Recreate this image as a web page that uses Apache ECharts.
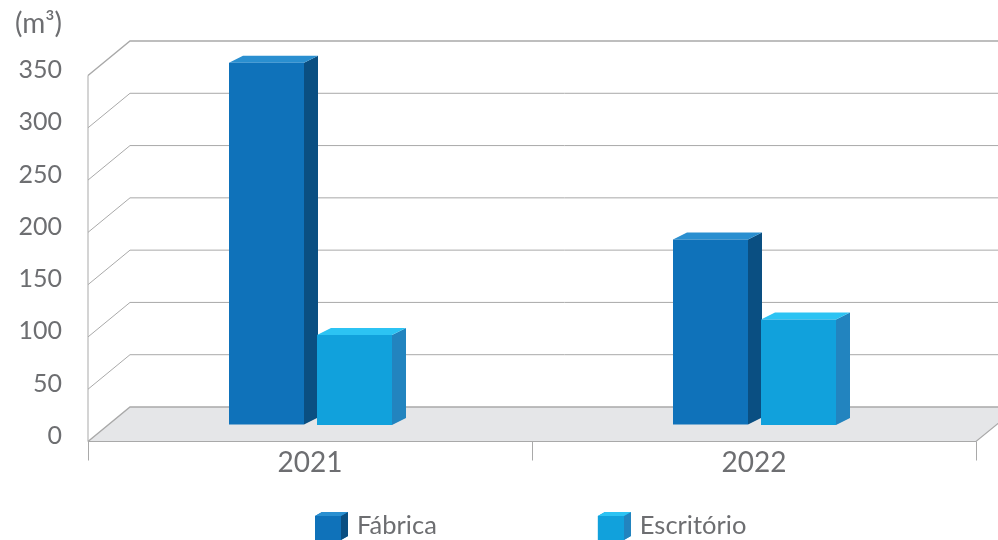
<!DOCTYPE html>
<html>
<head>
<meta charset="utf-8">
<style>html,body{margin:0;padding:0;background:#fff}#c{width:998px;height:540px}</style>
<script src="https://cdn.jsdelivr.net/npm/echarts@6/dist/echarts.min.js"></script>
</head>
<body>
<div id="c"></div>
<script>
const categories = ['2021', '2022'];
const fabrica = [346, 177];
const escritorio = [86, 101];
const yTicks = [0, 50, 100, 150, 200, 250, 300, 350];

const TEXT = '#6D6E71', LINE = '#A9A9A9';
const WALL_DX = 42, WALL_DY = 34.5, BAR_W = 75, DEPTH_X = 14, DEPTH_Y = 7;

function wall(params, api) {
  const cs = params.coordSys;
  const v = api.value(1);
  const y = api.coord([0, v])[1];
  const x0 = cs.x, x1 = cs.x + cs.width;
  const kids = [];
  if (v === 0) {
    kids.push({type: 'polygon', shape: {points: [[x0, y], [x0 + WALL_DX, y - WALL_DY], [x1 + WALL_DX, y - WALL_DY], [x1, y]]},
      style: {fill: '#E5E6E8', stroke: null}});
    kids.push({type: 'polyline', shape: {points: [[x0, y], [x1, y], [x1 + WALL_DX, y - WALL_DY]]},
      style: {fill: null, stroke: LINE, lineWidth: 1.2}});
    kids.push({type: 'line', shape: {x1: x0, y1: y, x2: x0, y2: api.coord([0, yTicks[yTicks.length - 1]])[1]},
      style: {stroke: LINE, lineWidth: 1}});
  }
  const heavy = v === 0 || v === 350;
  kids.push({type: 'polyline', shape: {points: [[x0, y], [x0 + WALL_DX, y - WALL_DY], [x1 + WALL_DX, y - WALL_DY]]},
    style: {fill: null, stroke: LINE, lineWidth: heavy ? 1.4 : 1}});
  return {type: 'group', children: kids};
}

function bars(offset, lift, front, side, top) {
  return function (params, api) {
    const c = api.coord([api.value(0), api.value(1)]);
    const base = api.coord([api.value(0), 0]);
    const x = Math.round(c[0] + offset), yt = c[1] - lift, yb = base[1] - lift;
    return {type: 'group', children: [
      {type: 'polygon', shape: {points: [[x + BAR_W, yt], [x + BAR_W + DEPTH_X, yt - DEPTH_Y], [x + BAR_W + DEPTH_X, yb - DEPTH_Y], [x + BAR_W, yb]]}, style: {fill: side}},
      {type: 'polygon', shape: {points: [[x, yt], [x + DEPTH_X, yt - DEPTH_Y], [x + BAR_W + DEPTH_X, yt - DEPTH_Y], [x + BAR_W, yt]]}, style: {fill: top}},
      {type: 'rect', shape: {x: x, y: yt, width: BAR_W, height: yb - yt}, style: {fill: front}}
    ]};
  };
}

const swatch = 'path://M0,4 L7,0 H33 V24 L26,28 H0 Z';
function legendFaces(x, side, top) {
  return [
    {type: 'polygon', z: 100, shape: {points: [[x + 26, 516], [x + 33, 512], [x + 33, 536], [x + 26, 540]]}, style: {fill: side}},
    {type: 'polygon', z: 100, shape: {points: [[x, 516], [x + 7, 512], [x + 33, 512], [x + 26, 516]]}, style: {fill: top}}
  ];
}

const chart = echarts.init(document.getElementById('c'), null, {renderer: 'canvas'});
chart.setOption({
  animation: false,
  textStyle: {fontFamily: 'Lato', color: TEXT},
  grid: {left: 88, right: 22, top: 75.5, bottom: 98.5, containLabel: false},
  legend: {
    left: 315, top: 512, itemWidth: 33, itemHeight: 28, itemGap: 161, padding: 0,
    data: [{name: 'Fábrica', icon: swatch}, {name: 'Escritório', icon: swatch}],
    selectedMode: false,
    textStyle: {fontFamily: 'Lato', fontSize: 25.5, color: TEXT, padding: [0, 0, 0, 4]}
  },
  xAxis: {
    type: 'category', data: categories, offset: 9.5,
    axisLine: {show: false},
    axisTick: {show: true, length: 19, alignWithLabel: false, lineStyle: {color: LINE}},
    axisLabel: {fontFamily: 'Lato', fontSize: 28, color: TEXT, margin: -2},
    splitLine: {show: false}
  },
  yAxis: {
    type: 'value', min: 0, max: 350, interval: 50,
    name: '(m³)', nameLocation: 'end', nameGap: 38,
    nameTextStyle: {fontFamily: 'Lato', fontSize: 28, color: TEXT, align: 'right', padding: [0, 26, 0, 0]},
    axisLine: {show: false}, axisTick: {show: false}, splitLine: {show: false},
    axisLabel: {fontFamily: 'Lato', fontSize: 25, color: TEXT, margin: 26, verticalAlign: 'bottom', lineHeight: 11}
  },
  graphic: legendFaces(315, '#0A4F82', '#2A8FD0').concat(legendFaces(598, '#2284BF', '#2CC3F3')),
  series: [
    {type: 'custom', name: 'wall', silent: true, z: 1, renderItem: wall, data: yTicks.map(v => [0, v]), encode: {x: 0, y: 1}},
    {type: 'custom', name: 'Fábrica', z: 3, itemStyle: {color: '#0F72BA'},
      renderItem: bars(-81.5, 17, '#0F72BA', '#0A4F82', '#2A8FD0'),
      data: fabrica.map((v, i) => [i, v]), encode: {x: 0, y: 1}},
    {type: 'custom', name: 'Escritório', z: 4, itemStyle: {color: '#11A1DC'},
      renderItem: bars(7, 16.5, '#11A1DC', '#2284BF', '#2CC3F3'),
      data: escritorio.map((v, i) => [i, v]), encode: {x: 0, y: 1}}
  ]
});
</script>
</body>
</html>
